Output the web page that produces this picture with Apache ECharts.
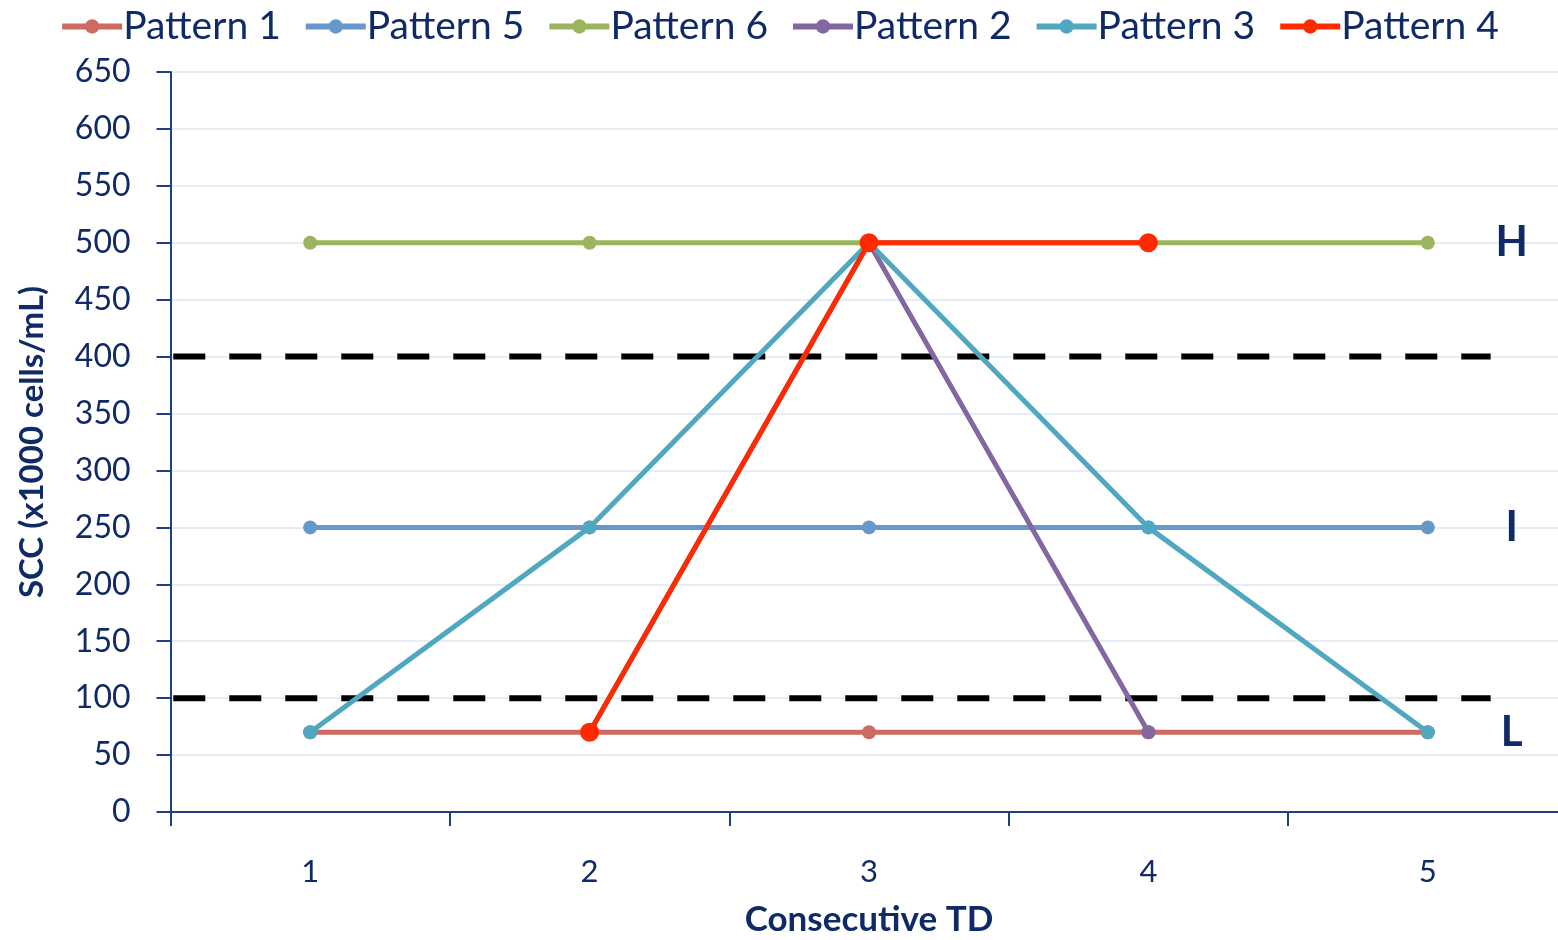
<!DOCTYPE html>
<html>
<head>
<meta charset="utf-8">
<script src="https://cdn.jsdelivr.net/npm/echarts@6/dist/echarts.min.js"></script>
<style>
  html, body { margin: 0; padding: 0; background: #fff; }
  #chart { width: 1558px; height: 940px; }
</style>
</head>
<body>
<div id="chart"></div>
<script>
// Consecutive test days and SCC levels per pattern
const categories = ['1', '2', '3', '4', '5'];
const pattern1 = [70, 70, 70, 70, 70];
const pattern5 = [250, 250, 250, 250, 250];
const pattern6 = [500, 500, 500, 500, 500];
const pattern2 = [null, 70, 500, 70, null];
const pattern3 = [70, 250, 500, 250, 70];
const pattern4 = [null, 70, 500, 500, null];

// Thresholds separating low / intermediate / high SCC
const thresholds = [100, 400];
// Level labels on the right side
const levelNames = ['H', 'I', 'L'];
const levelValues = [500, 250, 70];

const NAVY = '#0F2A66';
const FONT = 'Lato, "Open Sans", sans-serif';

const colors = {
  p1: '#CD6A62', p5: '#6798CC', p6: '#9BB55E',
  p2: '#8367A0', p3: '#4FA8BF', p4: '#FF2A00'
};

function lineSeries(name, data, color, big) {
  return {
    name, type: 'line', data,
    xAxisIndex: 0, yAxisIndex: 0,
    symbol: 'circle', symbolSize: big ? 19 : 14,
    showSymbol: true, connectNulls: false,
    lineStyle: { color, width: 5 },
    itemStyle: { color },
    emphasis: { disabled: true },
    animation: false
  };
}

const thresholdSeries = thresholds.map(v => ({
  type: 'line', xAxisIndex: 1, yAxisIndex: 0,
  data: [[0.51, v], [5.225, v]],
  symbol: 'none', silent: true, animation: false,
  lineStyle: { color: '#000', width: 6, type: [32, 24] },
  z: 1
}));

const levelSeries = {
  type: 'scatter', xAxisIndex: 1, yAxisIndex: 0,
  data: levelValues.map((v, i) => ({ value: [5.3, v], name: levelNames[i] })),
  symbolSize: 0, silent: true, animation: false,
  itemStyle: { opacity: 1 },
  label: {
    show: true, position: 'inside', formatter: p => p.name,
    color: NAVY, fontSize: 42, fontWeight: 'bold', fontFamily: FONT
  }
};

const chart = echarts.init(document.getElementById('chart'), null, { renderer: 'canvas' });
chart.setOption({
  backgroundColor: '#fff',
  textStyle: { fontFamily: FONT },
  legend: {
    top: 2, left: 'center',
    itemWidth: 60, itemHeight: 18, itemGap: 22,
    data: ['Pattern 1', 'Pattern 5', 'Pattern 6', 'Pattern 2', 'Pattern 3', 'Pattern 4'],
    lineStyle: { width: 6 },
    textStyle: { color: NAVY, fontSize: 39, fontFamily: FONT, padding: [0, 0, 0, -4] }
  },
  grid: { left: 170.5, top: 72, width: 1397, height: 740, containLabel: false, outerBoundsMode: 'none' },
  xAxis: [{
    type: 'category', data: categories, boundaryGap: true,
    name: 'Consecutive TD', nameLocation: 'middle', nameGap: 90,
    nameTextStyle: { color: NAVY, fontSize: 35, fontWeight: 'bold', fontFamily: FONT },
    axisLine: { lineStyle: { color: '#1F3F85', width: 2 } },
    axisTick: { show: true, length: 14, lineStyle: { color: '#1F3F85', width: 2 } },
    axisLabel: { color: NAVY, fontSize: 31, margin: 44, fontFamily: FONT },
    splitLine: { show: false }
  }, {
    type: 'value', min: 0.5, max: 5.5, show: false
  }],
  yAxis: {
    type: 'value', min: 0, max: 650, interval: 50,
    name: 'SCC (x1000 cells/mL)', nameLocation: 'middle', nameGap: 122,
    nameTextStyle: { color: NAVY, fontSize: 33, fontWeight: 'bold', fontFamily: FONT },
    axisLine: { show: true, lineStyle: { color: '#1F3F85', width: 2 } },
    axisTick: { show: true, length: 14, lineStyle: { color: '#1F3F85', width: 2 } },
    axisLabel: { color: NAVY, fontSize: 32, margin: 40, fontFamily: FONT },
    splitLine: { lineStyle: { color: '#E5EDF6', width: 2 } }
  },
  series: [
    ...thresholdSeries,
    lineSeries('Pattern 1', pattern1, colors.p1, false),
    lineSeries('Pattern 5', pattern5, colors.p5, false),
    lineSeries('Pattern 6', pattern6, colors.p6, false),
    lineSeries('Pattern 2', pattern2, colors.p2, false),
    lineSeries('Pattern 3', pattern3, colors.p3, false),
    lineSeries('Pattern 4', pattern4, colors.p4, true),
    levelSeries
  ]
});
</script>
</body>
</html>
